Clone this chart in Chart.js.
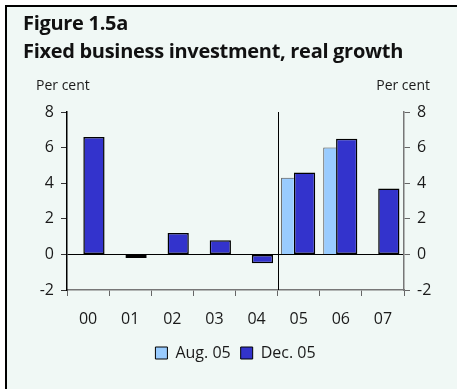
<!DOCTYPE html>
<html lang="en">
<head>
    <meta charset="UTF-8">
    <title>Fixed business investment, real growth</title>
    <script src="https://cdn.jsdelivr.net/npm/chart.js"></script>
    <style>
        html, body {
            margin: 0;
            padding: 0;
            background: #ffffff;
        }
        .frame {
            position: absolute;
            left: 5px;
            top: 5px;
            width: 452px;
            height: 384px;
            box-sizing: border-box;
            background: #f0f8f5;
            border-top: 2px solid #000;
            border-left: 2px solid #000;
        }
        .title {
            position: absolute;
            left: 23px;
            font-family: 'Open Sans', sans-serif;
            font-weight: bold;
            font-size: 20px;
            letter-spacing: -0.3px;
            line-height: 28px;
            color: #111;
            white-space: nowrap;
            z-index: 2;
        }
        .chart-box {
            position: absolute;
            left: 0;
            top: 0;
            width: 457px;
            height: 389px;
        }
    </style>
</head>
<body>
    <div class="frame"></div>
    <div class="title" style="top: 9px;">Figure 1.5a</div>
    <div class="title" style="top: 37px;">Fixed business investment, real growth</div>
    <div class="chart-box">
        <canvas id="investChart"></canvas>
    </div>

    <script>
        // 年份（两位数）
        const years = ['00', '01', '02', '03', '04', '05', '06', '07'];
        // 2005年8月预测
        const augForecast = [null, null, null, null, null, 4.3, 6.0, null];
        // 2005年12月预测
        const decForecast = [6.6, -0.2, 1.2, 0.8, -0.5, 4.6, 6.5, 3.7];
        // 纵轴刻度
        const yTicks = [-2, 0, 2, 4, 6, 8];

        const textColor = '#1a1a1a';
        const fontFamily = "'Open Sans', sans-serif";

        // 纵轴上方的单位文字 + 04/05 之间的分隔线
        const extras = {
            id: 'extras',
            afterDraw(chart) {
                const ctx = chart.ctx;
                const area = chart.chartArea;
                const x = chart.scales.x;
                ctx.save();
                ctx.font = '14px ' + fontFamily;
                ctx.fillStyle = textColor;
                ctx.textBaseline = 'middle';
                ctx.textAlign = 'left';
                ctx.fillText('Per cent', area.left - 31, area.top - 26);
                ctx.textAlign = 'right';
                ctx.fillText('Per cent', area.right + 26, area.top - 26);

                const px = Math.round(x.getPixelForValue(4.5)) + 0.5;
                ctx.strokeStyle = '#000';
                ctx.lineWidth = 1;
                ctx.beginPath();
                ctx.moveTo(px, area.top);
                ctx.lineTo(px, area.bottom);
                ctx.stroke();
                ctx.restore();
            }
        };

        function fixedTicks(scale) {
            scale.ticks = yTicks.map(v => ({ value: v }));
        }

        function createChart() {
            const ctx = document.getElementById('investChart').getContext('2d');
            new Chart(ctx, {
                type: 'bar',
                data: {
                    labels: years,
                    datasets: [
                        {
                            label: 'Aug. 05',
                            data: augForecast,
                            backgroundColor: '#99ccff',
                            borderColor: '#4d4d4d',
                            borderWidth: { top: 1, left: 1, right: 0, bottom: 0 },
                            borderSkipped: false,
                            categoryPercentage: 1.062,
                            barPercentage: 0.571
                        },
                        {
                            label: 'Dec. 05',
                            data: decForecast,
                            backgroundColor: '#3333cc',
                            borderColor: '#000',
                            borderWidth: 1.5,
                            borderSkipped: false,
                            categoryPercentage: 0.559,
                            barPercentage: 1.805
                        }
                    ]
                },
                options: {
                    responsive: true,
                    maintainAspectRatio: false,
                    animation: false,
                    layout: {
                        padding: { top: 112, left: 0, right: 0, bottom: 18 }
                    },
                    plugins: {
                        legend: {
                            display: true,
                            position: 'bottom',
                            fullSize: false,
                            labels: {
                                boxWidth: 12,
                                boxHeight: 12,
                                padding: 10,
                                color: textColor,
                                font: { family: fontFamily, size: 16 },
                                generateLabels(chart) {
                                    const items = Chart.defaults.plugins.legend.labels.generateLabels(chart);
                                    items.forEach(item => {
                                        item.lineWidth = 1;
                                        item.strokeStyle = '#000';
                                    });
                                    return items;
                                }
                            }
                        },
                        tooltip: { enabled: false }
                    },
                    scales: {
                        x: {
                            // 标签与图例之间留白收紧，绘图区底边落在 -2 处
                            afterFit(scale) { scale.height -= 8.2; },
                            grid: {
                                offset: true,
                                drawOnChartArea: false,
                                tickLength: 6,
                                tickColor: '#666'
                            },
                            border: { color: '#777', width: 1.5 },
                            ticks: {
                                color: textColor,
                                padding: 14,
                                font: { family: fontFamily, size: 16 }
                            }
                        },
                        y: {
                            position: 'left',
                            min: -2,
                            max: 8,
                            afterBuildTicks: fixedTicks,
                            afterFit(scale) { scale.width = 67; },
                            grid: {
                                color: c => (c.tick && c.tick.value === 0) ? '#000' : 'rgba(0,0,0,0)',
                                tickColor: '#333',
                                tickLength: 6,
                                lineWidth: 1
                            },
                            border: { color: '#000', width: 1.5 },
                            ticks: {
                                color: textColor,
                                padding: 7,
                                font: { family: fontFamily, size: 16 }
                            }
                        },
                        y2: {
                            position: 'right',
                            min: -2,
                            max: 8,
                            afterBuildTicks: fixedTicks,
                            afterFit(scale) { scale.width = 53; },
                            grid: {
                                drawOnChartArea: false,
                                tickColor: '#666',
                                tickLength: 6
                            },
                            border: { color: '#777', width: 1.5 },
                            ticks: {
                                color: textColor,
                                padding: 7,
                                font: { family: fontFamily, size: 16 }
                            }
                        }
                    }
                },
                plugins: [extras]
            });
        }

        document.addEventListener('DOMContentLoaded', createChart);
    </script>
</body>
</html>
